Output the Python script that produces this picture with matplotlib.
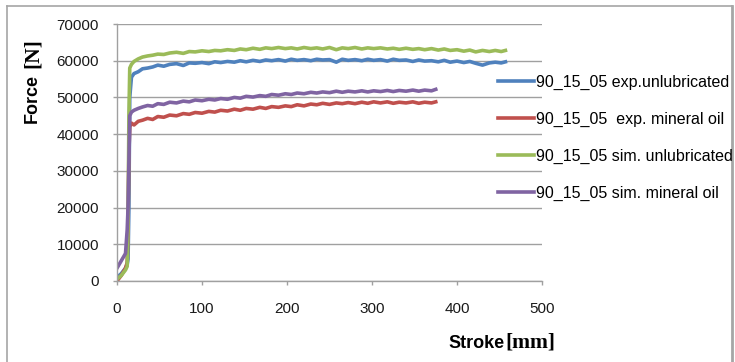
import numpy as np
import matplotlib
matplotlib.use('Agg')
import matplotlib.pyplot as plt
from matplotlib.lines import Line2D

### Data
labels = ['90_15_05 exp.unlubricated', '90_15_05  exp. mineral oil',
          '90_15_05 sim. unlubricated', '90_15_05 sim. mineral oil']
colors = ['#4F81BD', '#C0504D', '#9BBB59', '#8064A2']

long_x = [0, 5, 10, 12, 13, 14, 15, 17, 20, 25, 30, 36, 42, 48, 55, 62, 70, 78, 85, 92,
          100, 108, 115, 122, 130, 138, 145, 152, 160, 168, 175, 182, 190, 198, 205, 212,
          220, 228, 235, 242, 250, 258, 265, 272, 280, 288, 295, 302, 310, 318, 325, 332,
          340, 348, 355, 362, 370, 378, 385, 392, 400, 408, 415, 422, 430, 438, 445, 452, 457]

short_x = [0, 5, 10, 12, 13, 14, 15, 17, 20, 25, 30, 36, 42, 48, 55, 62, 70, 78, 85, 92,
           100, 108, 115, 122, 130, 138, 145, 152, 160, 168, 175, 182, 190, 198, 205, 212,
           220, 228, 235, 242, 250, 258, 265, 272, 280, 288, 295, 302, 310, 318, 325, 332,
           340, 348, 355, 362, 370, 375]

exp_unlub = [1000, 2000, 3500, 4500, 6000, 20000, 50000, 55500, 56500, 57000, 57800, 58000,
             58300, 58800, 58500, 59000, 59200, 58700, 59400, 59300, 59500, 59200, 59700,
             59500, 59800, 59600, 60000, 59700, 60100, 59800, 60200, 60000, 60300, 59900,
             60400, 60100, 60300, 60000, 60400, 60200, 60300, 59600, 60400, 60100, 60300,
             60000, 60400, 60100, 60300, 59900, 60400, 60100, 60200, 59800, 60200, 59900,
             60000, 59700, 60100, 59600, 59900, 59500, 59800, 59300, 58800, 59400, 59600,
             59400, 59700]

sim_unlub = [500, 1500, 3000, 4000, 15000, 45000, 58000, 59000, 59800, 60500, 61000, 61300,
             61500, 61800, 61700, 62100, 62300, 62000, 62500, 62400, 62700, 62500, 62800,
             62700, 63000, 62800, 63200, 63000, 63400, 63100, 63500, 63300, 63600, 63300,
             63500, 63200, 63600, 63300, 63500, 63200, 63600, 63000, 63500, 63300, 63600,
             63200, 63500, 63300, 63500, 63200, 63400, 63100, 63400, 63100, 63300, 63000,
             63300, 62900, 63200, 62800, 63000, 62600, 62900, 62400, 62800, 62500, 62800,
             62500, 62800]

exp_oil = [0, 1500, 3500, 5000, 15000, 35000, 42000, 43000, 42500, 43500, 43800, 44300,
           44000, 44800, 44600, 45200, 45000, 45600, 45400, 45900, 45700, 46200, 46000,
           46500, 46300, 46800, 46500, 47000, 46800, 47300, 47000, 47500, 47300, 47700,
           47500, 48000, 47700, 48200, 48000, 48400, 48100, 48500, 48300, 48600, 48300,
           48700, 48400, 48800, 48500, 48800, 48400, 48700, 48500, 48800, 48400, 48700,
           48500, 48800]

sim_oil = [3500, 5500, 7500, 14000, 20000, 32000, 45000, 46000, 46500, 47000, 47400, 47800,
           47600, 48300, 48100, 48700, 48500, 49000, 48800, 49300, 49100, 49500, 49300,
           49700, 49500, 50000, 49800, 50300, 50100, 50500, 50300, 50800, 50600, 51000,
           50800, 51200, 51000, 51400, 51200, 51500, 51300, 51700, 51400, 51700, 51500,
           51800, 51500, 51800, 51600, 51900, 51600, 51900, 51700, 52000, 51700, 52000,
           51800, 52200]

series = [(long_x, exp_unlub), (short_x, exp_oil), (long_x, sim_unlub), (short_x, sim_oil)]

x_ticks = [0, 100, 200, 300, 400, 500]
y_ticks = [0, 10000, 20000, 30000, 40000, 50000, 60000, 70000]

### Figure
W, H = 735, 362
fig = plt.figure(figsize=(W / 100, H / 100), dpi=100, facecolor='white')
ax = fig.add_axes([117 / W, 1 - 281 / H, (542 - 117) / W, (281 - 24) / H])

grid_c = '#a0a0a0'
ax.set_xlim(0, 500)
ax.set_ylim(0, 70000)
ax.set_xticks(x_ticks)
ax.set_yticks(y_ticks)
ax.yaxis.grid(True, color=grid_c, linewidth=1.0)
ax.set_axisbelow(True)
for s in ['top', 'right']:
    ax.spines[s].set_visible(False)
for s in ['left', 'bottom']:
    ax.spines[s].set_color(grid_c)
    ax.spines[s].set_linewidth(1.0)
ax.tick_params(axis='both', colors=grid_c, length=3, width=1.0, labelsize=11,
               labelcolor='#1a1a1a', labelfontfamily='Liberation Sans')
ax.tick_params(axis='y', pad=10)
ax.tick_params(axis='x', pad=12)

handles = []
for (xs, ys), c, lab in zip(series, colors, labels):
    h, = ax.plot(xs, ys, color=c, linewidth=2.6, label=lab, solid_joinstyle='round')
    handles.append(h)

# legend on the right, over the plot edge
fig.legend(handles=handles, labels=labels, loc='upper left',
           bbox_to_anchor=(490 / W, 1 - 67 / H), frameon=False, borderpad=0,
           handlelength=2.25, handletextpad=0.12, labelspacing=1.37,
           prop={'family': 'Liberation Sans', 'size': 11.5})

# axis titles: bold sans word + bold serif unit
fig.text(32 / W, 1 - 123 / H, 'Force', rotation=90, ha='center', va='bottom',
         fontsize=13, fontweight='bold', family='Liberation Sans')
fig.text(33 / W, 1 - 68 / H, '[N]', rotation=90, ha='center', va='bottom',
         fontsize=15.5, fontweight='bold', family='Liberation Serif')
fig.text(448 / W, 1 - 344 / H, 'Stroke', ha='left', va='center',
         fontsize=13, fontweight='bold', family='Liberation Sans')
fig.text(505 / W, 1 - 343 / H, '[mm]', ha='left', va='center',
         fontsize=15.5, fontweight='bold', family='Liberation Serif')

# outer chart border
bc = '#a6a6a6'
fig.add_artist(Line2D([7 / W, 7 / W], [0, 1 - 6 / H], color=bc, linewidth=1.2))
fig.add_artist(Line2D([7 / W, 732 / W], [1 - 6 / H, 1 - 6 / H], color=bc, linewidth=1.2))
fig.add_artist(Line2D([732 / W, 732 / W], [0, 1 - 6 / H], color=bc, linewidth=2.0))

fig.savefig('out.png', dpi=100, facecolor='white')
